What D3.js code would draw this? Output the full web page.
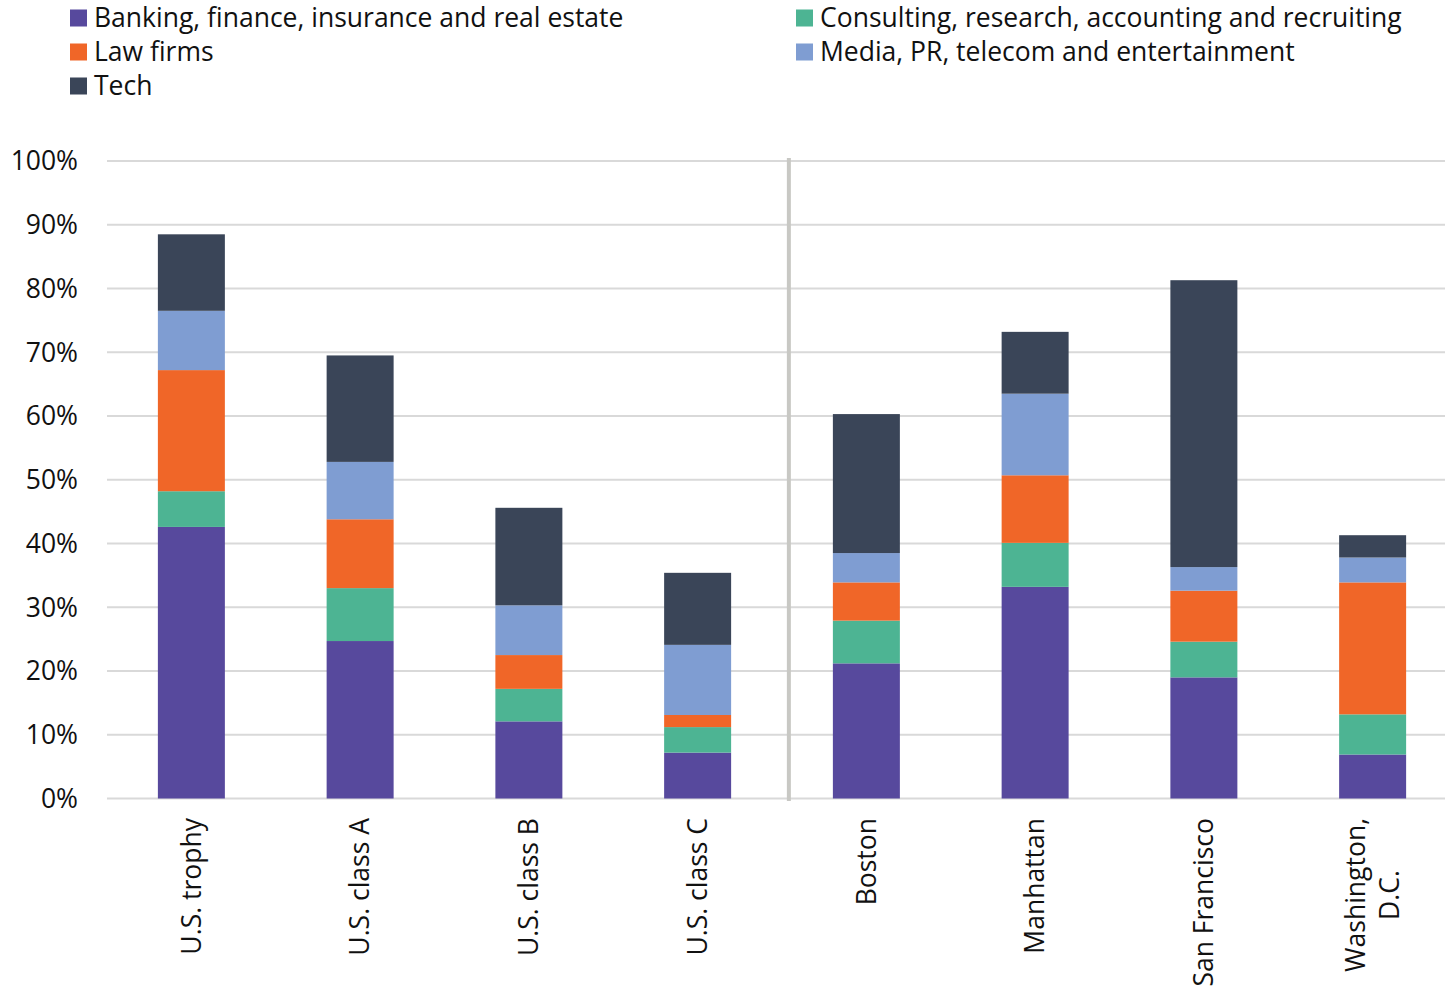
<!DOCTYPE html>
<html>
<head>
<meta charset="utf-8">
<script src="https://cdn.jsdelivr.net/npm/d3@7"></script>
<style>
  body { margin: 0; background: #fff; }
  text { font-family: "Open Sans", sans-serif; fill: #111; }
</style>
</head>
<body>
<div id="chart"></div>
<script>
// categories and series (percent of leases)
const categories = ["U.S. trophy", "U.S. class A", "U.S. class B", "U.S. class C",
                    "Boston", "Manhattan", "San Francisco", "Washington, D.C."];
const seriesNames = ["Banking, finance, insurance and real estate",
                     "Consulting, research, accounting and recruiting",
                     "Law firms",
                     "Media, PR, telecom and entertainment",
                     "Tech"];
const banking    = [42.6, 24.7, 12.1, 7.2, 21.2, 33.2, 19.0, 6.9];
const consulting = [5.6, 8.3, 5.1, 4.0, 6.7, 6.9, 5.6, 6.3];
const law        = [19.0, 10.8, 5.3, 1.9, 6.0, 10.6, 8.0, 20.7];
const media      = [9.3, 9.0, 7.8, 11.0, 4.6, 12.8, 3.7, 3.9];
const tech       = [12.0, 16.7, 15.3, 11.3, 21.8, 9.7, 45.0, 3.5];
const yTicks = [0, 10, 20, 30, 40, 50, 60, 70, 80, 90, 100];

const colors = ["#57499d", "#4db493", "#f06628", "#7f9dd2", "#3a4558"];
const fontSize = "26.5px";

// build rows for d3.stack
const keys = ["banking", "consulting", "law", "media", "tech"];
const rows = categories.map(function(c, i) {
  return { cat: c, banking: banking[i], consulting: consulting[i], law: law[i], media: media[i], tech: tech[i] };
});

const width = 1445, height = 987;
const svg = d3.select("#chart").append("svg")
  .attr("width", width)
  .attr("height", height);

const x = d3.scaleBand()
  .domain(categories)
  .range([107, 1457])
  .paddingInner(0.603)
  .paddingOuter(0.3015);

const y = d3.scaleLinear()
  .domain([0, 100])
  .range([798.5, 161]);

// gridlines
svg.append("g").selectAll("line")
  .data(yTicks)
  .enter().append("line")
  .attr("x1", 107)
  .attr("x2", width)
  .attr("y1", d => y(d))
  .attr("y2", d => y(d))
  .attr("stroke", "#d9d9d9")
  .attr("stroke-width", 2);

// y labels
svg.append("g").selectAll("text")
  .data(yTicks)
  .enter().append("text")
  .attr("x", 78)
  .attr("y", d => y(d))
  .attr("dy", "0.35em")
  .attr("text-anchor", "end")
  .style("font-size", fontSize)
  .text(d => d + "%");

// stacked bars
const stacked = d3.stack().keys(keys)(rows);
svg.append("g").selectAll("g")
  .data(stacked)
  .enter().append("g")
  .attr("fill", (d, i) => colors[i])
  .selectAll("rect")
  .data(d => d)
  .enter().append("rect")
  .attr("x", d => x(d.data.cat))
  .attr("width", x.bandwidth())
  .attr("y", d => y(d[1]))
  .attr("height", d => y(d[0]) - y(d[1]));

// separator between U.S. classes and markets
const sepX = x(categories[4]) - 44;
svg.append("line")
  .attr("x1", sepX).attr("x2", sepX)
  .attr("y1", 158).attr("y2", 801)
  .attr("stroke", "#c8c8c4")
  .attr("stroke-width", 4);

// x labels, rotated
const xl = svg.append("g").selectAll("g")
  .data(categories)
  .enter().append("g")
  .attr("transform", d => `translate(${x(d) + x.bandwidth() / 2}, 818) rotate(-90)`);

xl.each(function(d) {
  const g = d3.select(this);
  const parts = d === "Washington, D.C." ? ["Washington,", "D.C."] : [d];
  if (parts.length === 1) {
    g.append("text")
      .attr("text-anchor", "end")
      .attr("dy", "0.35em")
      .style("font-size", fontSize)
      .text(d);
  } else {
    const t1 = g.append("text")
      .attr("text-anchor", "end")
      .attr("y", -17)
      .attr("dy", "0.35em")
      .style("font-size", fontSize)
      .text(parts[0]);
    const w = t1.node().getComputedTextLength();
    g.append("text")
      .attr("text-anchor", "middle")
      .attr("x", -w / 2)
      .attr("y", 17)
      .attr("dy", "0.35em")
      .style("font-size", fontSize)
      .text(parts[1]);
  }
});

// legend
const legendPos = [[70, 18], [796, 18], [70, 52], [796, 52], [70, 86]];
const legend = svg.append("g").selectAll("g")
  .data(seriesNames)
  .enter().append("g")
  .attr("transform", (d, i) => `translate(${legendPos[i][0]}, ${legendPos[i][1]})`);

legend.append("rect")
  .attr("x", 0)
  .attr("y", -8.5)
  .attr("width", 17)
  .attr("height", 17)
  .attr("fill", (d, i) => colors[i]);

legend.append("text")
  .attr("x", 24)
  .attr("dy", "0.35em")
  .style("font-size", fontSize)
  .text(d => d);
</script>
</body>
</html>
